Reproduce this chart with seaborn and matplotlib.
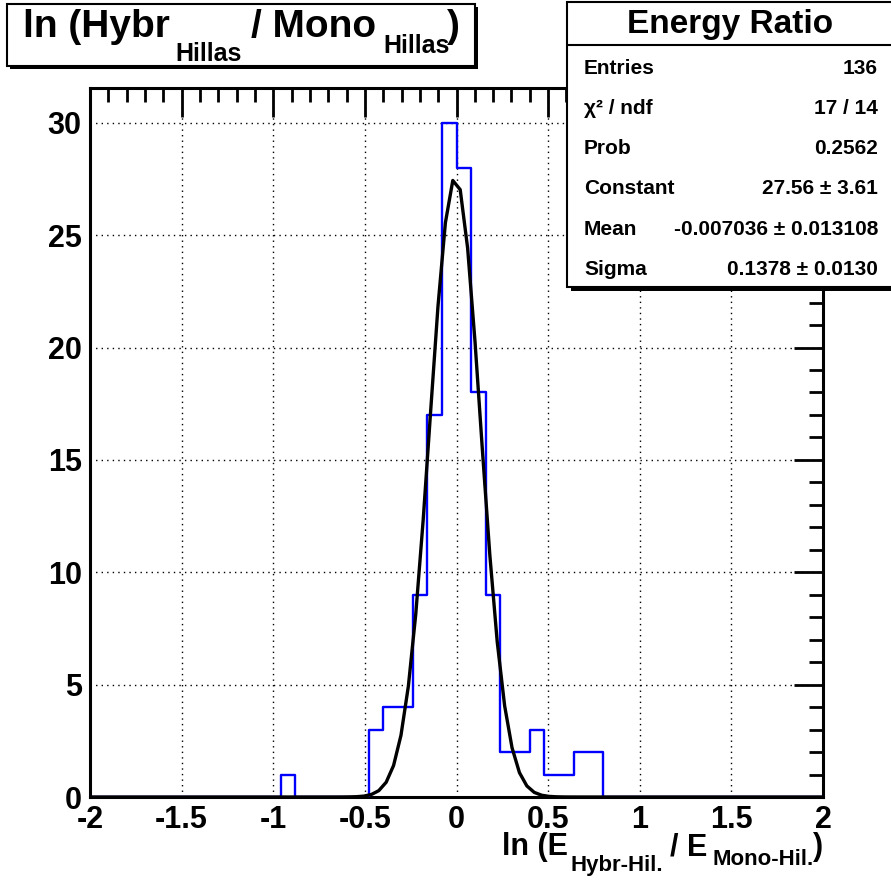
import numpy as np
import pandas as pd
import matplotlib
matplotlib.use("Agg")
import matplotlib.pyplot as plt
from matplotlib.patches import Rectangle
from matplotlib.ticker import MultipleLocator
import seaborn as sns

# histogram: 50 bins of 0.08 from -2 to 2, only filled bins listed
bin_lo = [-0.96, -0.48, -0.40, -0.32, -0.24, -0.16, -0.08, 0.00, 0.08,
          0.16, 0.24, 0.32, 0.40, 0.48, 0.56, 0.64, 0.72]
bin_count = [1, 3, 4, 4, 9, 17, 30, 28, 18, 9, 2, 2, 3, 1, 1, 2, 2]

# gaussian fit parameters from the stats box
fit_const = 27.56
fit_mean = -0.007036
fit_sigma = 0.1378

stat_names = ["Entries", "χ² / ndf", "Prob", "Constant", "Mean", "Sigma"]
stat_values = ["136", "17 / 14", "0.2562", "27.56 ± 3.61",
               "-0.007036 ± 0.013108", "0.1378 ± 0.0130"]

W, H = 891, 880
edges = np.linspace(-2, 2, 51)
centers = (edges[:-1] + edges[1:]) / 2
counts = np.zeros(50)
for lo, c in zip(bin_lo, bin_count):
    counts[int(round((lo + 2) / 0.08))] = c
df = pd.DataFrame({"x": centers, "n": counts})

sns.set_theme(style="white")
plt.rcParams["font.family"] = ["Liberation Sans", "DejaVu Sans"]
plt.rcParams["font.weight"] = "bold"
plt.rcParams["text.color"] = "black"
plt.rcParams["xtick.labelcolor"] = "black"
plt.rcParams["ytick.labelcolor"] = "black"

fig = plt.figure(figsize=(W / 100, H / 100), dpi=100)
ax = fig.add_axes([90 / W, 1 - 797 / H, (823 - 90) / W, (797 - 88) / H])

sns.histplot(data=df, x="x", weights="n", binwidth=0.08, binrange=(-2, 2),
             element="step", fill=False, color="blue", linewidth=1.7,
             ax=ax, zorder=3)

xf = np.linspace(-2, 2, 100)
yf = fit_const * np.exp(-0.5 * ((xf - fit_mean) / fit_sigma) ** 2)
sns.lineplot(x=xf, y=yf, color="black", linewidth=2.4, ax=ax, zorder=4)

ax.set_xlim(-2, 2)
ax.set_ylim(0, 31.55)
ax.set_xlabel("")
ax.set_ylabel("")
ax.xaxis.set_minor_locator(MultipleLocator(0.1))
ax.yaxis.set_minor_locator(MultipleLocator(1))
ax.set_xticks([-2, -1.5, -1, -0.5, 0, 0.5, 1, 1.5, 2])
ax.set_xticklabels(["-2", "-1.5", "-1", "-0.5", "0", "0.5", "1", "1.5", "2"])
ax.set_yticks([0, 5, 10, 15, 20, 25, 30])
ax.set_yticklabels(["0", "5", "10", "15", "20", "25", "30"])
ax.tick_params(which="both", direction="in", top=True, right=True,
               color="black", width=2, labelsize=22, labelcolor="black")
ax.tick_params(which="major", length=21)
ax.tick_params(which="minor", length=10)
ax.tick_params(axis="x", which="major", pad=6)
ax.tick_params(axis="y", which="major", pad=6)
for lab in ax.get_xticklabels() + ax.get_yticklabels():
    lab.set_fontweight("bold")
for sp in ax.spines.values():
    sp.set_color("black")
    sp.set_linewidth(2.2)
ax.grid(True, which="major", color="black", linestyle=(0, (1, 3)), linewidth=1)
ax.set_axisbelow(True)


def px(x, y):
    return x / W, 1 - y / H


def box(x0, y0, x1, y1, shadow=4):
    fig.patches.append(Rectangle(px(x0 + shadow, y1 + shadow), (x1 - x0) / W,
                                 (y1 - y0) / H, transform=fig.transFigure,
                                 facecolor="black", edgecolor="none", zorder=10))
    fig.patches.append(Rectangle(px(x0, y1), (x1 - x0) / W, (y1 - y0) / H,
                                 transform=fig.transFigure, facecolor="white",
                                 edgecolor="black", linewidth=1.5, zorder=11))


def txt(x, y, s, size, **kw):
    fig.text(*px(x, y), s, fontsize=size, fontweight="bold", va="baseline",
             color="black", zorder=12, **kw)


# title box
box(7, 4, 475, 66, shadow=3)
txt(23, 37, "ln (Hybr", 28)
txt(175, 61, "Hillas", 18)
txt(251, 37, "/ Mono", 28)
txt(383, 53, "Hillas", 18)
txt(447, 37, ")", 28)

# stats box
box(567, 2, 893, 287, shadow=4)
fig.lines.append(plt.Line2D([567 / W, 1], [1 - 45 / H, 1 - 45 / H],
                            transform=fig.transFigure, color="black",
                            linewidth=1.5, zorder=12))
txt(730, 33, "Energy Ratio", 24, ha="center")
row_y = [74, 114, 154, 194, 235, 275]
for name, val, yy in zip(stat_names, stat_values, row_y):
    txt(584, yy, name, 15)
    txt(878, yy, val, 15, ha="right")

# x axis title
txt(502, 855, "ln (E", 22)
txt(570, 871, "Hybr-Hil.", 16)
txt(670, 855, "/ E", 22)
txt(712, 865, "Mono-Hil.", 16)
txt(813, 855, ")", 22)

fig.savefig("out.png", dpi=100)
